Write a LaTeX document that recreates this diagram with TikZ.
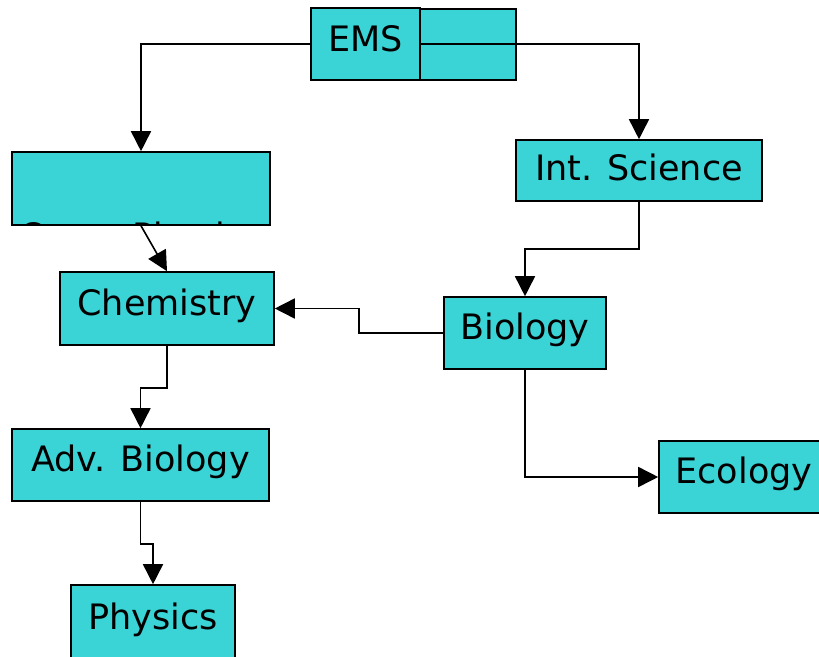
\documentclass[tikz,border=0pt]{standalone}
\usepackage{fontspec}
\setmainfont{DejaVu Sans}
\usetikzlibrary{arrows.meta, positioning, calc}
\definecolor{boxteal}{RGB}{58,212,214}

\begin{document}
\begin{tikzpicture}[x=1pt, y=-1pt,
    course/.style={rectangle, draw, fill=boxteal, line width=1.6pt, inner sep=0pt, text height=26pt, text depth=13pt, font=\fontsize{35}{42}\selectfont},
    link/.style={-{Triangle[length=20pt, width=20pt]}, line width=1.6pt}
]
    \useasboundingbox (0,0) rectangle (819,656);

    % top boxes
    \node [course, minimum width=181pt, minimum height=71pt] (emsback) at (425.5,44.5) {};
    \node [course, minimum width=109pt, minimum height=72pt, text depth=11pt] (ems) at (365.5,44) {EMS};

    \node [course, minimum width=258pt, minimum height=73pt] (conc) at (141,188.5) {};
    \begin{scope}
        \clip (conc.south west) rectangle (conc.north east);
        \node [anchor=base, font=\fontsize{35}{42}\selectfont] (conctext) at (141,248) {Conc. Physics};
    \end{scope}
    \node [course, minimum width=246pt, minimum height=61pt, text depth=6pt] (int) at (639,170.5) {Int. Science};

    \node [course, minimum width=214pt, minimum height=73pt] (chem) at (167,308.5) {Chemistry};
    \node [course, minimum width=162pt, minimum height=72pt] (bio) at (525,333) {Biology};
    \node [course, minimum width=257pt, minimum height=72pt] (adv) at (140.5,465) {Adv. Biology};
    \node [course, minimum width=170pt, minimum height=72pt] (eco) at (744,477) {Ecology};
    \node [course, minimum width=164pt, minimum height=75pt] (phys) at (153,622.5) {Physics};

    % connectors
    \draw [link] (ems.west) -| (conc.north);
    \draw [link] (ems.east) -| (int.north);
    \draw [link] (conc.south) -- (chem.north);
    \draw [link] (int.south) -- ++(0,47) -| (bio.north);
    \draw [link] (bio.west) -- ++(-84,0) |- (chem.east);
    \draw [link] (chem.south) -- ++(0,42) -| (adv.north);
    \draw [link] (adv.south) -- ++(0,42) -| (phys.north);
    \draw [link] (bio.south) |- (eco.west);
\end{tikzpicture}
\end{document}
